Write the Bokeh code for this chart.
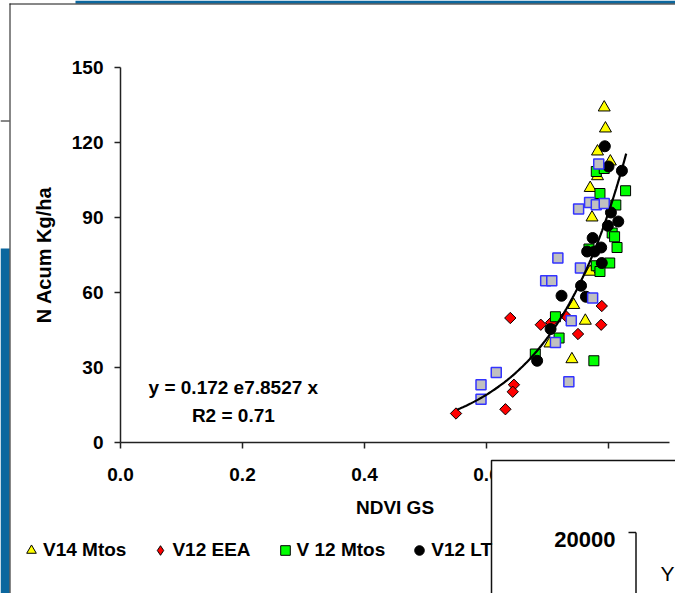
import numpy as np
from bokeh.plotting import figure
from bokeh.models import (Range1d, FixedTicker, Legend, LegendItem, Label,
                          NumeralTickFormatter)
from bokeh.core.properties import value
from bokeh.embed import file_html
from bokeh.resources import INLINE

# ---------------- data ----------------
v14_x = [0.793, 0.795, 0.782, 0.803, 0.782, 0.770, 0.773, 0.770, 0.743, 0.762, 0.740, 0.704]
v14_y = [134.0, 125.6, 116.4, 112.4, 106.5, 101.8, 90.0, 68.3, 55.0, 48.7, 33.3, 39.6]

eea_x = [0.639, 0.689, 0.706, 0.730, 0.789, 0.788, 0.750, 0.645, 0.643, 0.631, 0.550]
eea_y = [49.8, 47.1, 48.0, 50.6, 54.6, 47.1, 43.4, 23.1, 20.3, 13.3, 11.6]

v12m_x = [0.780, 0.793, 0.786, 0.828, 0.812, 0.806, 0.810, 0.814, 0.768, 0.780, 0.802, 0.786,
          0.713, 0.719, 0.680, 0.776]
v12m_y = [108.4, 109.6, 99.6, 100.7, 95.0, 83.8, 82.3, 78.0, 77.4, 70.7, 71.8, 68.4,
          50.3, 41.8, 35.4, 32.7]

v12l_x = [0.794, 0.800, 0.822, 0.804, 0.816, 0.799, 0.774, 0.788, 0.765, 0.777, 0.789, 0.755,
          0.723, 0.763, 0.705, 0.683]
v12l_y = [118.5, 110.4, 108.7, 92.0, 88.4, 86.7, 81.8, 78.0, 76.4, 76.4, 71.8, 62.7,
          58.7, 58.3, 45.4, 32.7]

gray_x = [0.784, 0.751, 0.769, 0.780, 0.793, 0.717, 0.754, 0.697, 0.707, 0.774, 0.739, 0.713,
          0.735, 0.616, 0.591, 0.591]
gray_y = [111.4, 93.4, 96.0, 95.1, 95.6, 73.8, 69.8, 64.7, 64.7, 57.8, 48.7, 40.0,
          24.3, 28.0, 23.1, 17.3]

legend_labels = ["V14 Mtos", "V12 EEA", "V 12 Mtos", "V12 LT"]
x_ticks = [0.0, 0.2, 0.4, 0.6, 0.8]
y_ticks = [0, 30, 60, 90, 120, 150]

fit_a = 0.172
fit_b = 7.8527
fit_x_start, fit_x_end = 0.552, 0.829
eq_text = "y = 0.172 e7.8527 x"
r2_text = "R2 = 0.71"

# texts of the neighbouring (overlapping) slide chart
other_tick_label = "20000"
other_axis_label = "Y"

FONT = "Liberation Sans"
BLUE = "#0B679E"

# series styles (shared by the chart and its legend)
STYLES = [
    dict(marker="triangle", size=12, fill_color="#FFFF00", line_color="black", line_width=1),
    dict(marker="square", angle=np.pi / 4, size=8, fill_color="#FF0000", line_color="black",
         line_width=1),
    dict(marker="square", size=10, fill_color="#00FF00", line_color="black", line_width=1),
    dict(marker="circle", size=11, fill_color="black", line_color="black", line_width=1),
]
GRAY_STYLE = dict(marker="square", size=10, fill_color="#C0C0C0", line_color="#3333FF",
                  line_width=1.5)
# legend keys cannot be rotated, so the red key uses the diamond marker
KEY_MARKERS = ["triangle", "diamond", "square", "circle"]

# ---------------- main figure ----------------
W, H = 675, 593
FL, FR, FT, FB = 120, 669, 67, 442  # frame edges in canvas px

p = figure(width=W, height=H, output_backend="svg", toolbar_location=None,
           x_range=Range1d(0, 0.9), y_range=Range1d(0, 150),
           min_border_left=FL, min_border_right=W - FR,
           min_border_top=FT, min_border_bottom=H - FB)
p.outline_line_color = None
p.background_fill_color = "white"
p.border_fill_color = "white"
p.grid.visible = False

for ax in (p.xaxis[0], p.yaxis[0]):
    ax.axis_line_color = "#222222"
    ax.axis_line_width = 1.5
    ax.major_tick_line_color = "#222222"
    ax.major_tick_line_width = 1.5
    ax.major_tick_in = 0
    ax.major_tick_out = 6
    ax.minor_tick_line_color = None
    ax.major_label_text_font = FONT
    ax.major_label_text_font_style = "bold"
    ax.major_label_text_font_size = "19px"
    ax.major_label_text_color = "black"
    ax.axis_label_text_font = FONT
    ax.axis_label_text_font_style = "bold"
    ax.axis_label_text_color = "black"

p.xaxis.ticker = FixedTicker(ticks=x_ticks)
p.xaxis.formatter = NumeralTickFormatter(format="0.0")
p.xaxis.major_label_standoff = 19
p.xaxis.axis_label = "NDVI GS"
p.xaxis.axis_label_text_font_size = "19px"
p.xaxis.axis_label_standoff = 13

p.yaxis.ticker = FixedTicker(ticks=y_ticks)
p.yaxis.major_label_standoff = 11
p.yaxis.axis_label = "N Acum Kg/ha"
p.yaxis.axis_label_text_font_size = "20px"
p.yaxis.axis_label_standoff = 14

# ---------------- series ----------------
series = [(v14_x, v14_y), (eea_x, eea_y), (v12m_x, v12m_y), (v12l_x, v12l_y)]
for (sx, sy), st in zip(series, STYLES):
    p.scatter(sx, sy, **st)
p.scatter(gray_x, gray_y, **GRAY_STYLE)

fx = np.linspace(fit_x_start, fit_x_end, 120)
fy = fit_a * np.exp(fit_b * fx)
p.line(fx, fy, line_color="black", line_width=2.2)

p.add_layout(Label(x=0.185, y=22, text=eq_text, text_align="center",
                   text_baseline="alphabetic", text_font=FONT, text_font_style="bold",
                   text_font_size="19px", text_color="black"))
p.add_layout(Label(x=0.185, y=10.8, text=r2_text, text_align="center",
                   text_baseline="alphabetic", text_font=FONT, text_font_style="bold",
                   text_font_size="19px", text_color="black"))

# ---------------- overlay: legend + surrounding slide pieces ----------------
ov = figure(width=W, height=H, output_backend="svg", toolbar_location=None,
            x_range=Range1d(0, W), y_range=Range1d(H, 0), min_border=0,
            x_axis_type=None, y_axis_type=None,
            styles={"position": "absolute", "left": "0px", "top": "0px"})
ov.background_fill_color = None
ov.border_fill_color = None
ov.outline_line_color = None
ov.grid.visible = False

# legend keys (same colours as the series); the legend lies outside the plot frame
keys = []
for st, mk in zip(STYLES, KEY_MARKERS):
    kst = {k: v for k, v in st.items() if k not in ("marker", "angle")}
    keys.append(ov.scatter(x=[np.nan], y=[np.nan], marker=mk, **kst))
legend = Legend(items=[LegendItem(label=lab, renderers=[r])
                       for lab, r in zip(legend_labels, keys)],
                orientation="horizontal", location=(19, H - 562),
                glyph_width=24, glyph_height=24, label_standoff=-2, spacing=22,
                padding=0, margin=0, border_line_alpha=0, background_fill_alpha=0,
                label_text_font=FONT, label_text_font_style="bold",
                label_text_font_size="19px", label_text_color="black",
                label_height=24)
ov.add_layout(legend, "center")

# blue slide bars and panel borders
ov.quad(left=[75, 0], right=[W + 5, 9], top=[0, 248], bottom=[3, H + 5],
        fill_color=BLUE, line_color=None)
ov.segment(x0=[9, 9.5, 0], y0=[3.5, 3, 120.5], x1=[W + 5, 9.5, 9], y1=[3.5, H + 5, 120.5],
           line_color="#111111", line_width=1)
# overlapping second chart panel (drawn above the legend)
ov.quad(left=[491], right=[W + 10], top=[460], bottom=[H + 10],
        fill_color="white", line_color="#111111", line_width=1.5, level="overlay")
ov.segment(x0=[628, 635.5], y0=[532, 532], x1=[635.5, 635.5], y1=[532, H + 5],
           line_color="#111111", line_width=1.5, level="overlay")
ov.text(x=[615], y=[539], text=[other_tick_label], text_align="right",
        text_baseline="alphabetic", text_font=value(FONT), text_font_style="bold",
        text_font_size=value("22px"), text_color="black", level="overlay")
ov.text(x=[660], y=[573], text=[other_axis_label], text_align="left",
        text_baseline="alphabetic", text_font=value(FONT),
        text_font_size=value("21px"), text_color="black", level="overlay")

open("out.html", "w").write(file_html([p, ov], INLINE))
